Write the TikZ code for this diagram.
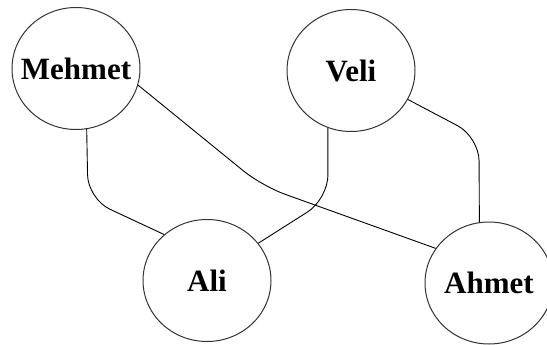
\documentclass[tikz,border=0pt]{standalone}
\usepackage{fontspec}
\setmainfont{Liberation Serif}
\usetikzlibrary{shapes.geometric}
\newcommand{\personname}[1]{\makebox[0pt][c]{#1}}
\begin{document}
\begin{tikzpicture}[x=1pt,y=-1pt,
  person/.style={ellipse,draw=black!80,line width=1pt,fill=white,
    minimum width=128pt,minimum height=122pt,inner sep=0pt,
    font=\fontsize{31}{33}\selectfont\bfseries},
  link/.style={draw=black,line width=0.9pt,rounded corners=24pt}]
  \useasboundingbox (0,0) rectangle (547,345);
  \clip (0,0) rectangle (547,345);

  % people
  \node[person] (mehmet) at (76,68.5) {\personname{Mehmet}};
  \node[person] (veli)   at (351,70.5) {\personname{Veli}};
  \node[person] (ali)    at (207,280.5) {\personname{Ali}};
  \node[person] (ahmet)  at (489,283) {\personname{Ahmet}};

  % bends of the links
  \coordinate (bMA) at (88,199);
  \coordinate (bMH) at (262,186);
  \coordinate (bVA) at (328,199);
  \coordinate (bVH) at (479,137);

  % links
  \draw[link] (mehmet.280) -- (bMA) -- (ali.133);
  \draw[link] (mehmet.-15) -- (bMH) -- (ahmet.147);
  \draw[link] (veli.248) -- (bVA) -- (ali.36);
  \draw[link] (veli.-27) -- (bVH) -- (ahmet.99);
\end{tikzpicture}
\end{document}
